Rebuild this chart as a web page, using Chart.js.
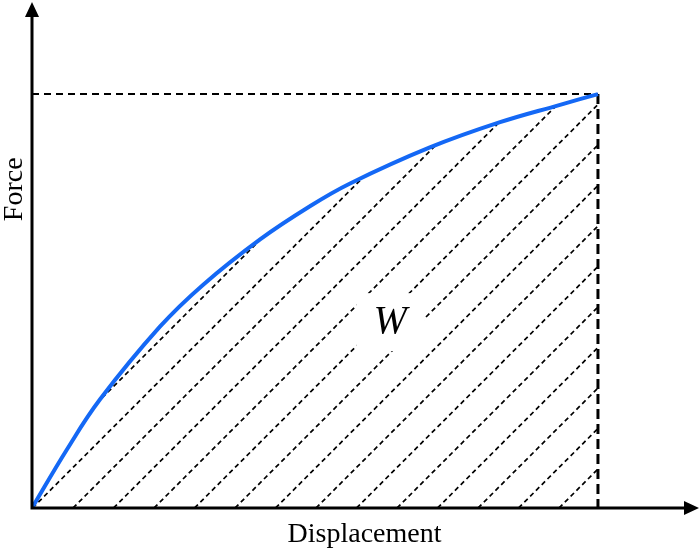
<!DOCTYPE html>
<html><head><meta charset="utf-8">
<script src="https://cdn.jsdelivr.net/npm/chart.js@4.4.1/dist/chart.umd.min.js"></script>
<style>html,body{margin:0;padding:0;background:#fff}#wrap{width:700px;height:552px;position:relative}</style>
</head><body><div id="wrap"><canvas id="c"></canvas></div>
<script>
// ---- data ----
const displacement = [0, 0.62, 1.20, 2.26, 3.02, 4.03, 4.91, 5.62, 7.03, 8.27, 9.33, 10];
const force        = [0, 1.42, 2.62, 4.38, 5.39, 6.49, 7.29, 7.84, 8.71, 9.32, 9.74, 10];
const xTitle = 'Displacement';
const yTitle = 'Force';
const areaLabel = 'W';
const areaLabelPos = [6.33, 4.49];
const axisMax = [11.75, 12.20];

const dMax = displacement[displacement.length - 1];
const fMax = force[force.length - 1];
const serif = '"Liberation Serif", "Times New Roman", serif';

// hatch pattern (diagonal dashed lines, spacing 40.5px)
const canvas = document.getElementById('c');
const ctx0 = canvas.getContext('2d');
const SP = 40.5, TILE = 81;
function makeHatch() {
  const t = document.createElement('canvas');
  t.width = TILE; t.height = TILE;
  const g = t.getContext('2d');
  const seg = SP * Math.SQRT2, n = 7, p = seg / n, a = p * 0.58, b = p - a;
  g.strokeStyle = '#000'; g.lineWidth = 1.7;
  g.setLineDash([a, b]); g.lineDashOffset = a + b / 2;
  [[0, SP, SP, 0], [0, TILE, TILE, 0], [SP, TILE, TILE, SP]].forEach(([x1, y1, x2, y2]) => {
    g.beginPath(); g.moveTo(x1, y1); g.lineTo(x2, y2); g.stroke();
  });
  return ctx0.createPattern(t, 'repeat');
}
const hatch = makeHatch();

const customDraw = {
  id: 'customDraw',
  beforeDatasetsDraw(chart) {
    const xs = chart.scales.x, ys = chart.scales.y;
    const ox = xs.getPixelForValue(0), oy = ys.getPixelForValue(0);
    const tx = Math.round((ox + oy) % SP);
    hatch.setTransform(new DOMMatrix().translate(tx, 0));
  },
  afterDatasetsDraw(chart) {
    const c = chart.ctx, xs = chart.scales.x, ys = chart.scales.y;
    const lx = xs.getPixelForValue(areaLabelPos[0]), ly = ys.getPixelForValue(areaLabelPos[1]);
    c.save();
    c.fillStyle = '#fff';
    c.fillRect(lx - 34, ly - 29, 68, 58);
    c.fillStyle = '#000';
    c.font = 'italic 40px ' + serif;
    c.textAlign = 'center'; c.textBaseline = 'middle';
    c.fillText(areaLabel, lx, ly);
    c.restore();
  },
  afterDraw(chart) {
    const c = chart.ctx, a = chart.chartArea;
    const ox = a.left, oy = a.bottom;
    c.save();
    c.strokeStyle = '#000'; c.fillStyle = '#000';
    c.lineWidth = 3; c.lineJoin = 'miter'; c.lineCap = 'butt';
    c.beginPath();
    c.moveTo(ox, a.top + 10); c.lineTo(ox, oy); c.lineTo(a.right - 10, oy);
    c.stroke();
    c.beginPath();
    c.moveTo(a.right + 2, oy); c.lineTo(a.right - 13, oy - 7); c.lineTo(a.right - 13, oy + 7);
    c.closePath(); c.fill();
    c.beginPath();
    c.moveTo(ox, a.top - 1); c.lineTo(ox - 7, a.top + 14); c.lineTo(ox + 7, a.top + 14);
    c.closePath(); c.fill();
    // y title
    c.font = '28px ' + serif;
    c.textAlign = 'center'; c.textBaseline = 'middle';
    c.translate(15, chart.scales.y.getPixelForValue(fMax * 0.77));
    c.rotate(-Math.PI / 2);
    c.fillText(yTitle, 0, 0);
    c.restore();
  }
};

new Chart(canvas, {
  type: 'line',
  data: {
    datasets: [
      {
        label: 'curve',
        data: displacement.map((x, i) => ({ x, y: force[i] })),
        borderColor: '#1468f5',
        borderWidth: 4,
        pointRadius: 0,
        tension: 0.4,
        fill: 'origin',
        backgroundColor: hatch
      },
      {
        label: 'guideH',
        data: [{ x: 0, y: fMax }, { x: dMax, y: fMax }],
        borderColor: '#000', borderWidth: 2, borderDash: [7, 5],
        pointRadius: 0, fill: false
      },
      {
        label: 'guideV',
        data: [{ x: dMax, y: fMax }, { x: dMax, y: 0 }],
        borderColor: '#000', borderWidth: 3, borderDash: [10, 5],
        pointRadius: 0, fill: false
      }
    ]
  },
  options: {
    responsive: true,
    maintainAspectRatio: false,
    animation: false,
    layout: { padding: { left: 32, top: 3, right: 3, bottom: 0 } },
    plugins: { legend: { display: false }, tooltip: { enabled: false } },
    scales: {
      x: {
        type: 'linear', min: 0, max: axisMax[0],
        ticks: { display: false },
        grid: { display: false, drawTicks: false },
        border: { display: false },
        title: { display: true, text: xTitle, color: '#000',
                 font: { family: serif, size: 28 }, padding: { top: 10, bottom: 0.4 } }
      },
      y: {
        type: 'linear', min: 0, max: axisMax[1], display: false
      }
    }
  },
  plugins: [customDraw]
});
</script>
</body></html>
